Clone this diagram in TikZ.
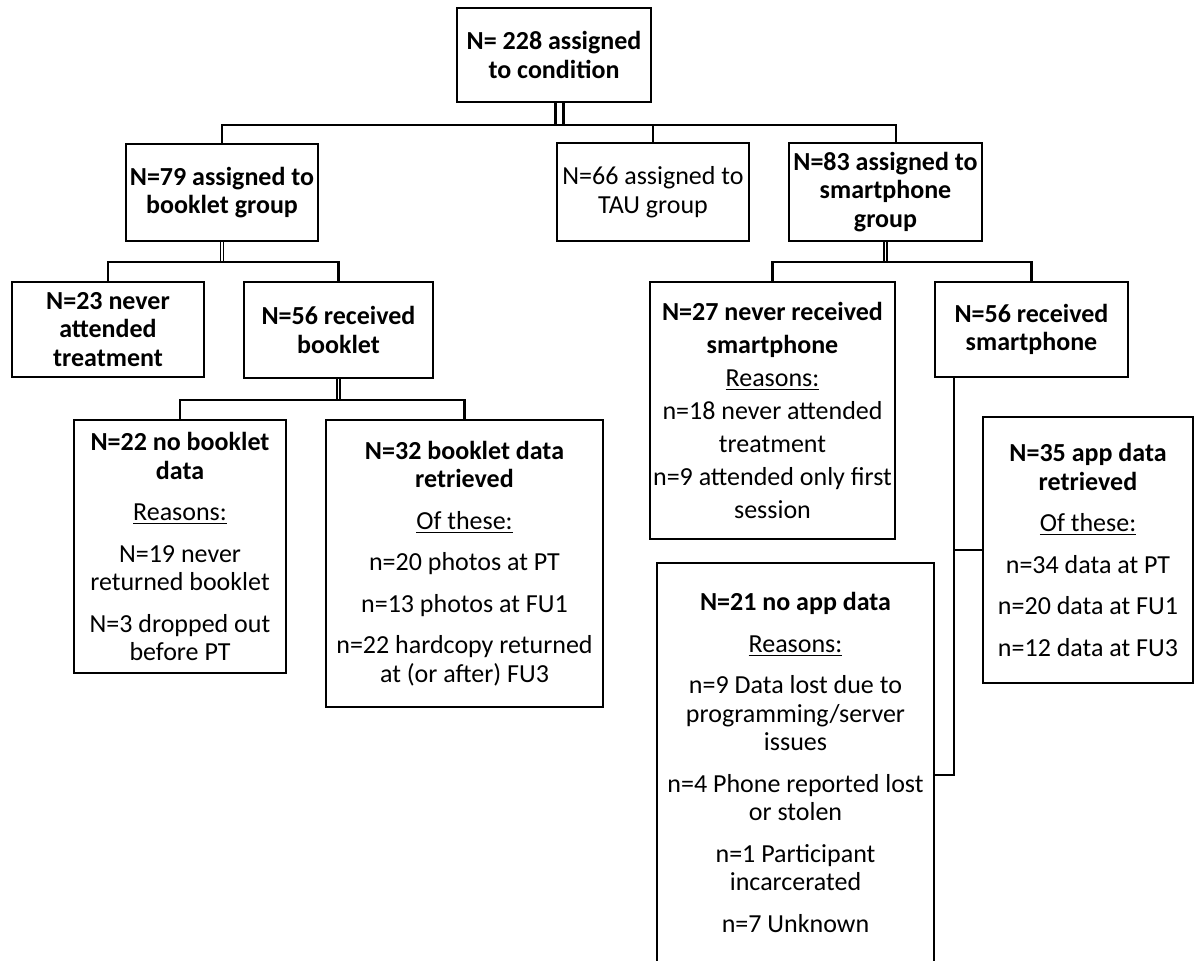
\documentclass[tikz,border=0pt]{standalone}
\usepackage{fontspec}
\setmainfont{Carlito}
\newcommand{\boxgap}{6.5pt}
\newcommand{\rowgap}{2.3pt}
\begin{document}
\begin{tikzpicture}[x=0.5pt,y=-0.5pt,
  every node/.style={font=\fontsize{13}{14.25}\selectfont},
  flowbox/.style={draw, line width=1.2pt, align=center, inner sep=1pt},
  link/.style={line width=1.2pt},
  dblwide/.style={double, line width=1.35pt, double distance=2.65pt},
  dblthin/.style={double, line width=0.75pt, double distance=0.75pt}]
\useasboundingbox (0,0) rectangle (1195,961);
\fill [white] (0,0) rectangle (1195,961);
\node [flowbox, minimum width=97pt, minimum height=47pt] (all) at (554,55) {\textbf{N= 228 assigned}\\\textbf{to condition}};
\node [flowbox, minimum width=96pt, minimum height=48.5pt] (grpB) at (222,192.5) {\textbf{N=79 assigned to}\\\textbf{booklet group}};
\node [flowbox, minimum width=96pt, minimum height=49pt] (grpT) at (653,192) {N=66 assigned to\\TAU group};
\node [flowbox, minimum width=96.5pt, minimum height=49pt] (grpS) at (885.5,192) {\textbf{N=83 assigned to}\\\textbf{smartphone}\\\textbf{group}};
\node [flowbox, minimum width=96pt, minimum height=47.5pt] (noAtt) at (108,329.5) {\textbf{N=23 never}\\\textbf{attended}\\\textbf{treatment}};
\node [flowbox, minimum width=94.5pt, minimum height=48pt] (gotB) at (338.5,330) {\textbf{N=56 received}\\\textbf{booklet}};
\node [flowbox, minimum width=106pt, minimum height=126.5pt] (noBD) at (180,546.5) {\textbf{N=22 no booklet}\\\textbf{data}\\[\boxgap]\underline{Reasons:}\\[\boxgap]N=19 never\\returned booklet\\[\boxgap]N=3 dropped out\\before PT};
\node [flowbox, minimum width=138.5pt, minimum height=143.5pt] (yesBD) at (464.5,563.5) {\textbf{N=32 booklet data}\\\textbf{retrieved}\\[\boxgap]\underline{Of these:}\\[\boxgap]n=20 photos at PT\\[\boxgap]n=13 photos at FU1\\[\boxgap]n=22 hardcopy returned\\at (or after) FU3};
\node [flowbox, minimum width=122.5pt, minimum height=128.5pt] (noPh) at (772.5,410.5) {\textbf{N=27 never received}\\[\rowgap]\textbf{smartphone}\\[\rowgap]\underline{Reasons:}\\[\rowgap]n=18 never attended\\[\rowgap]treatment\\[\rowgap]n=9 attended only first\\[\rowgap]session};
\node [flowbox, minimum width=96.5pt, minimum height=47.5pt] (gotPh) at (1031.5,329.5) {\textbf{N=56 received}\\\textbf{smartphone}};
\node [flowbox, minimum width=105pt, minimum height=133pt] (yesApp) at (1088,550) {\textbf{N=35 app data}\\\textbf{retrieved}\\[\boxgap]\underline{Of these:}\\[\boxgap]n=34 data at PT\\[\boxgap]n=20 data at FU1\\[\boxgap]n=12 data at FU3};
\node [flowbox, minimum width=138.5pt, minimum height=199.5pt] (noApp) at (795.5,762.5) {\textbf{N=21 no app data}\\[\boxgap]\underline{Reasons:}\\[\boxgap]n=9 Data lost due to\\programming/server\\issues\\[\boxgap]n=4 Phone reported lost\\or stolen\\[\boxgap]n=1 Participant\\incarcerated\\[\boxgap]n=7 Unknown};
\coordinate (bar0) at (0,125);
\coordinate (bar1) at (0,262);
\coordinate (bar2) at (0,400);
\coordinate (adrop) at ([xshift=2.75pt]all.south);
\coordinate (sdrop) at ([xshift=5.25pt]grpS.north);
\coordinate (pdrop) at ([xshift=10pt]gotPh.south west);
\coordinate (pturn) at ([yshift=-6.25pt]noApp.east);
\draw [dblwide] (adrop) -- (adrop |- bar0);
\draw [link] (grpB.north) -- (grpB.north |- bar0) -- (sdrop |- bar0) -- (sdrop);
\draw [link] (grpT.north) -- (grpT.north |- bar0);
\draw [dblthin] (grpB.south) -- (grpB.south |- bar1);
\draw [link] (noAtt.north) -- (noAtt.north |- bar1) -- (gotB.north |- bar1) -- (gotB.north);
\draw [dblthin] (gotB.south) -- (gotB.south |- bar2);
\draw [link] (noBD.north) -- (noBD.north |- bar2) -- (yesBD.north |- bar2) -- (yesBD.north);
\draw [dblthin] (grpS.south) -- (grpS.south |- bar1);
\draw [link] (noPh.north) -- (noPh.north |- bar1) -- (gotPh.north |- bar1) -- (gotPh.north);
\draw [link] (pdrop) |- (pturn);
\draw [link] (pdrop |- yesApp.west) -- (yesApp.west);
\end{tikzpicture}
\end{document}
